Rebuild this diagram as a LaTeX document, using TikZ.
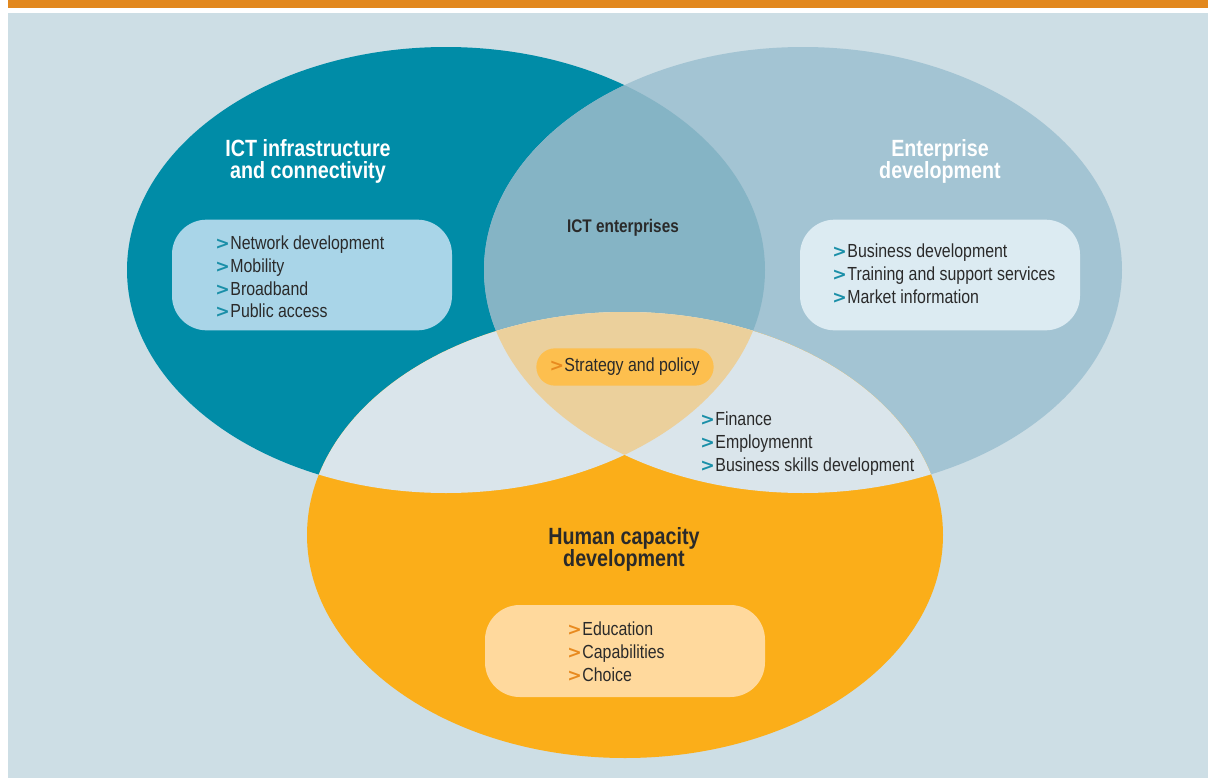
\documentclass[tikz,border=0pt]{standalone}
\usepackage{fontspec}
\setmainfont{Liberation Sans}[FakeStretch=0.84]
\newfontfamily\chev{DejaVu Sans}
\definecolor{bgc}{HTML}{CDDEE5}
\definecolor{barc}{HTML}{E2881E}
\definecolor{tealc}{HTML}{008CA7}
\definecolor{lbluec}{HTML}{A3C4D3}
\definecolor{midc}{HTML}{85B4C5}
\definecolor{orangec}{HTML}{FBAE19}
\definecolor{lightc}{HTML}{DAE5EB}
\definecolor{tanc}{HTML}{EBD09C}
\definecolor{boxa}{HTML}{A9D5E8}
\definecolor{boxb}{HTML}{DCEBF2}
\definecolor{boxc}{HTML}{FFD99D}
\definecolor{pillc}{HTML}{FDBF4E}
\definecolor{txtc}{HTML}{2A2A2A}
\definecolor{arrt}{HTML}{1A8FA8}
\definecolor{arro}{HTML}{E88A1F}
\newcommand{\bt}{\makebox[10.6pt][l]{\hspace{-0.6pt}\textcolor{arrt}{\chev\bfseries\fontsize{13}{13}\selectfont >}}}
\newcommand{\bo}{\makebox[10.6pt][l]{\hspace{-0.6pt}\textcolor{arro}{\chev\bfseries\fontsize{13}{13}\selectfont >}}}
\begin{document}
\begin{tikzpicture}[x=0.75pt,y=-0.75pt,
  title/.style={font=\fontsize{17.6}{16.5}\selectfont\bfseries, align=center, inner sep=0pt},
  listtxt/.style={font=\fontsize{14.2}{16.9}\selectfont, text=txtc, align=left, anchor=north west, inner sep=0pt},
  rbox/.style={rounded corners=26pt, inner sep=0pt},
]
\useasboundingbox (0,0) rectangle (1208,778);
\fill[white] (0,0) rectangle (1208,778);
\fill[barc] (8,0) rectangle (1208,8);
\fill[bgc] (8,13) rectangle (1208,778);
% ellipses
\fill[tealc] (446,270) ellipse [x radius=319, y radius=223];
\fill[lbluec] (803,270) ellipse [x radius=319, y radius=223];
\begin{scope}
  \clip (446,270) ellipse [x radius=319, y radius=223];
  \fill[midc] (803,270) ellipse [x radius=319, y radius=223];
\end{scope}
\fill[orangec] (625,535) ellipse [x radius=318, y radius=223];
\begin{scope}
  \clip (625,535) ellipse [x radius=318, y radius=223];
  \fill[lightc] (446,270) ellipse [x radius=319, y radius=223];
  \fill[lightc] (803,270) ellipse [x radius=319, y radius=223];
  \clip (446,270) ellipse [x radius=319, y radius=223];
  \fill[tanc] (803,270) ellipse [x radius=319, y radius=223];
\end{scope}
% boxes
\node[rbox, fill=boxa, minimum width=210pt, minimum height=83pt] (boxL) at (312,275) {};
\node[rbox, fill=boxb, minimum width=210pt, minimum height=83pt] (boxR) at (940,275) {};
\node[rbox, fill=boxc, minimum width=210pt, minimum height=69pt] (boxB) at (625,651) {};
\node[rbox, rounded corners=14pt, fill=pillc, minimum width=133pt, minimum height=28pt] (pill) at (625,367) {};
% titles
\node[title, text=white] (tL) at (308,161) {ICT infrastructure\\ and connectivity};
\node[title, text=white] (tR) at (940,161) {Enterprise\\development};
\node[title, text=txtc] (tB) at (624,549) {Human capacity\\development};
\node[font=\fontsize{13.7}{14}\selectfont\bfseries, text=txtc, inner sep=0pt] (tM) at (623,228) {ICT enterprises};
% lists
\node[listtxt] (lL) at (216,236) {\bt Network development\\\bt Mobility\\\bt Broadband\\\bt Public access};
\node[listtxt] (lR) at (833,244) {\bt Business development\\\bt Training and support services\\\bt Market information};
\node[listtxt] (lM) at (701,412) {\bt Finance\\\bt Employmennt\\\bt Business skills development};
\node[listtxt] (lB) at (568,622) {\bo Education\\\bo Capabilities\\\bo Choice};
\node[font=\fontsize{14.2}{16.9}\selectfont, text=txtc, inner sep=0pt] (sp) at (625,367) {\bo Strategy and policy};
\end{tikzpicture}
\end{document}
